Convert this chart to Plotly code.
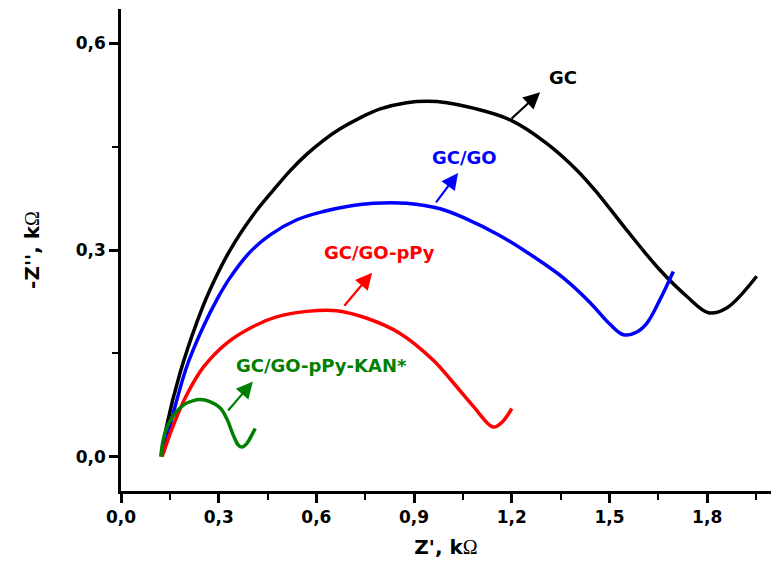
import plotly.graph_objects as go

# Nyquist data (Z', -Z'') in kOhm
gc_x = [0.125, 0.140, 0.181, 0.232, 0.273, 0.335, 0.406, 0.468, 0.519, 0.570, 0.621, 0.673, 0.734,
        0.796, 0.877, 0.939, 1.001, 1.082, 1.195, 1.307, 1.400, 1.466, 1.553, 1.655, 1.737, 1.804,
        1.860, 1.952]
gc_y = [0.003, 0.044, 0.121, 0.194, 0.242, 0.300, 0.351, 0.387, 0.415, 0.439, 0.459, 0.476, 0.492,
        0.505, 0.514, 0.516, 0.514, 0.506, 0.489, 0.455, 0.416, 0.381, 0.329, 0.271, 0.233, 0.209,
        0.216, 0.262]

go_x = [0.130, 0.150, 0.202, 0.253, 0.299, 0.335, 0.396, 0.458, 0.540, 0.621, 0.703, 0.775, 0.877,
        0.980, 1.062, 1.160, 1.265, 1.360, 1.440, 1.500, 1.543, 1.584, 1.615, 1.655, 1.696]
go_y = [0.005, 0.044, 0.131, 0.189, 0.232, 0.260, 0.297, 0.322, 0.344, 0.356, 0.364, 0.368, 0.368,
        0.360, 0.345, 0.322, 0.291, 0.259, 0.224, 0.193, 0.177, 0.181, 0.194, 0.228, 0.269]

ppy_x = [0.126, 0.161, 0.202, 0.253, 0.325, 0.406, 0.478, 0.570, 0.662, 0.755, 0.857, 0.959,
         1.021, 1.082, 1.143, 1.170, 1.200]
ppy_y = [0.0, 0.046, 0.090, 0.130, 0.165, 0.189, 0.203, 0.211, 0.212, 0.201, 0.179, 0.140,
         0.107, 0.073, 0.043, 0.050, 0.070]

kan_x = [0.122, 0.130, 0.145, 0.168, 0.195, 0.220, 0.243, 0.273, 0.304, 0.325, 0.345, 0.360, 0.371,
         0.386, 0.401, 0.412]
kan_y = [0.0, 0.025, 0.047, 0.064, 0.076, 0.081, 0.083, 0.080, 0.071, 0.055, 0.031, 0.017, 0.014,
         0.019, 0.031, 0.041]

series_names = ["GC", "GC/GO", "GC/GO-pPy", "GC/GO-pPy-KAN*"]
series_colors = ["#000000", "#0000ff", "#ff0000", "#008000"]

# label positions, arrow tails and heads (data coords)
label_pos = [(1.357, 0.550), (1.056, 0.434), (0.795, 0.296), (0.616, 0.133)]
arrow_tail = [(1.195, 0.489), (0.964, 0.367), (0.682, 0.217), (0.325, 0.065)]
arrow_head = [(1.287, 0.529), (1.035, 0.412), (0.771, 0.267), (0.405, 0.109)]

xs = [gc_x, go_x, ppy_x, kan_x]
ys = [gc_y, go_y, ppy_y, kan_y]

fig = go.Figure()
for name, col, x, y in zip(series_names, series_colors, xs, ys):
    fig.add_trace(go.Scatter(x=x, y=y, mode="lines", name=name,
                             line=dict(color=col, width=3.5, shape="spline", smoothing=1.0)))

FAM = "DejaVu Sans, Liberation Sans, sans-serif"
font_bold = dict(family=FAM, color="black", weight="bold")

for name, col, lp, tl, hd in zip(series_names, series_colors, label_pos, arrow_tail, arrow_head):
    fig.add_annotation(x=hd[0], y=hd[1], ax=tl[0], ay=tl[1], xref="x", yref="y",
                       axref="x", ayref="y", text="", showarrow=True,
                       arrowhead=2, arrowsize=1.5, arrowwidth=2.2, arrowcolor=col,
                       standoff=0, startstandoff=0)
    fig.add_annotation(x=lp[0], y=lp[1], xref="x", yref="y", text=name, showarrow=False,
                       font=dict(family=FAM, size=18, color=col, weight="bold"))

axis_common = dict(showline=True, linecolor="black", linewidth=2.5, mirror=False,
                   showgrid=False, zeroline=False, ticks="outside", ticklen=9, tickwidth=2.5,
                   tickcolor="black", tickformat=".1f",
                   tickfont=dict(size=17, **font_bold))

omega = "<span style='font-family:Liberation Serif;font-weight:normal'>Ω</span>"

fig.update_xaxes(range=[0, 1.996], tick0=0, dtick=0.3,
                 minor=dict(ticks="outside", ticklen=6, tickwidth=2, tickcolor="black", dtick=0.15, tick0=0),
                 title=dict(text="Z', k" + omega, font=dict(size=20, **font_bold), standoff=14),
                 **axis_common)
fig.update_yaxes(range=[-0.0498, 0.650], tick0=0, dtick=0.3,
                 minor=dict(ticks="outside", ticklen=6, tickwidth=2, tickcolor="black", dtick=0.15, tick0=0),
                 title=dict(text="-Z'', k" + omega, font=dict(size=20, **font_bold), standoff=31),
                 **axis_common)

fig.update_layout(width=771, height=575, margin=dict(l=121, r=0, t=9, b=84),
                  paper_bgcolor="white", plot_bgcolor="white", showlegend=False,
                  separators=",.")

fig.write_html("out.html")
